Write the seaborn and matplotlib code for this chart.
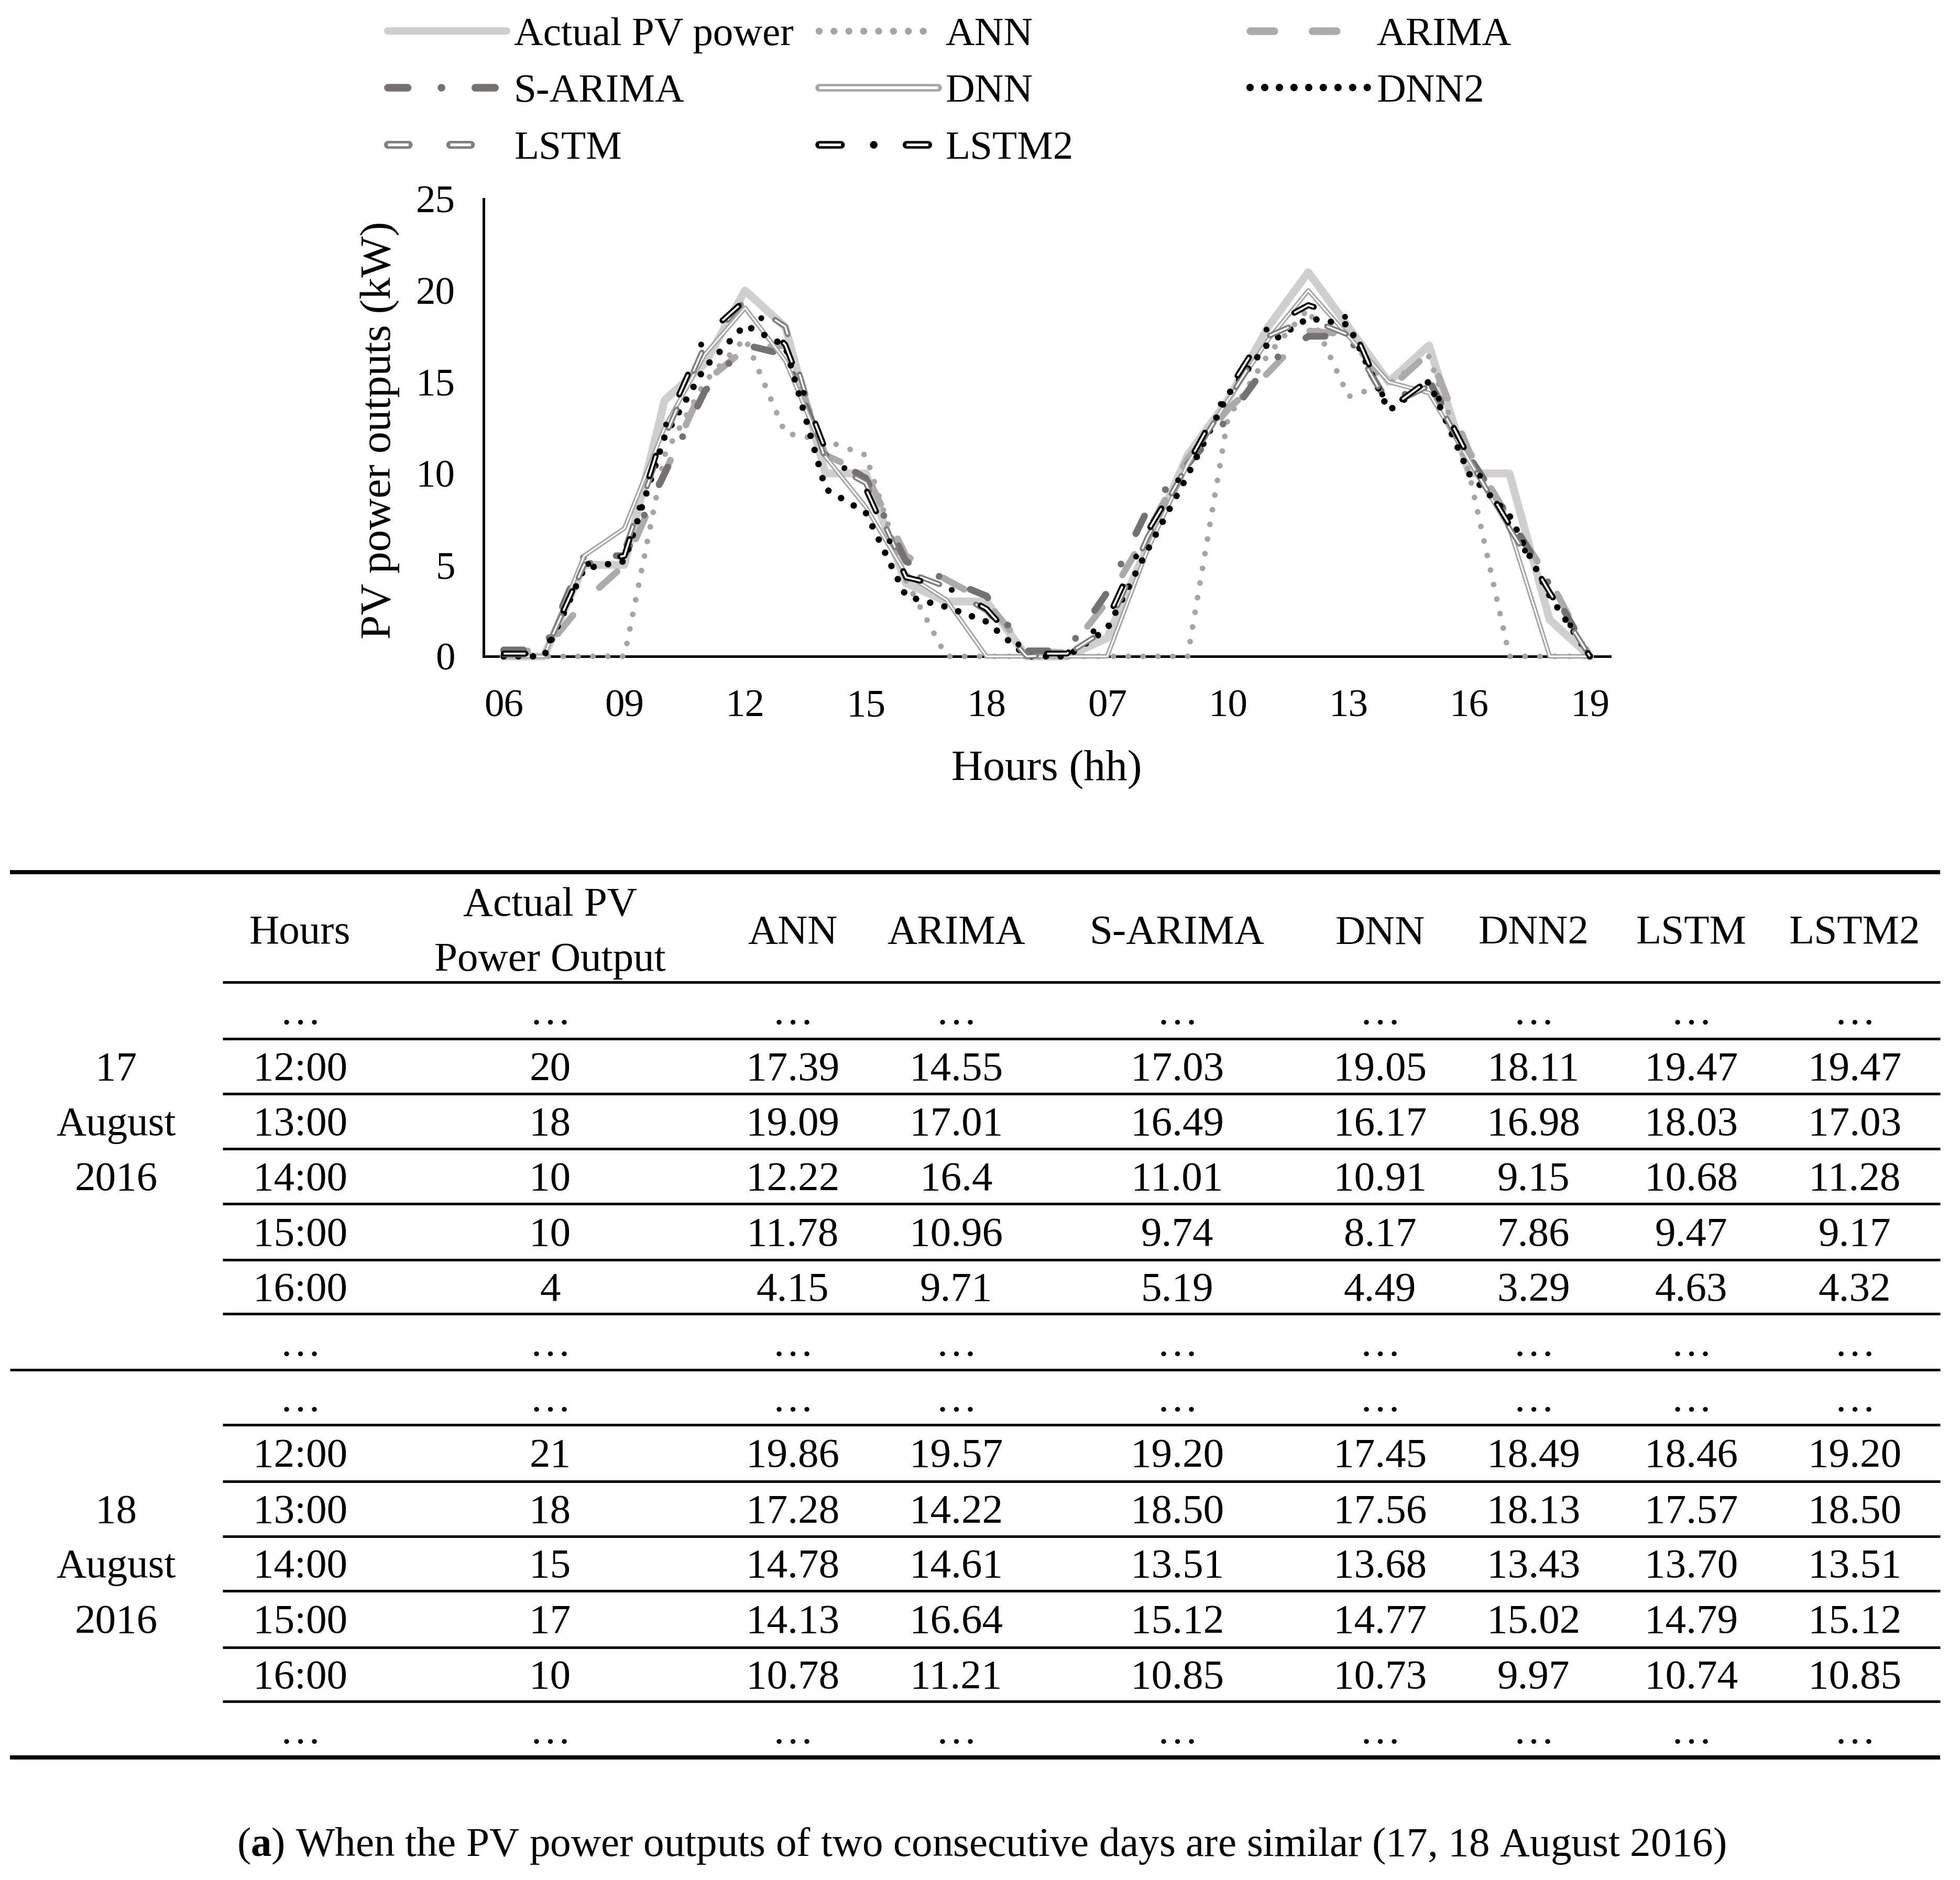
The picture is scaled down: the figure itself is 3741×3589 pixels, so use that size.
import numpy as np
import pandas as pd
import matplotlib
matplotlib.use("Agg")
import matplotlib.pyplot as plt
import seaborn as sns
from matplotlib.lines import Line2D

# two days on one category axis, 06..19 each day
hours = list(range(6, 20)) * 2

actual = [0, 0, 5, 5, 14, 16, 20, 18, 10, 10, 4, 3, 3, 0,
          0, 1, 6, 11, 14, 18, 21, 18, 15, 17, 10, 10, 2, 0]
ann = [0, 0, 0, 0, 11, 15, 17.4, 12.2, 11.8, 11, 4.15, 0, 0, 0,
       0, 0, 0, 0, 13, 16.5, 19, 14.2, 14.9, 16.4, 10, 0, 0, 0]
arima = [0.3, 0.3, 3, 5, 10, 15, 16.8, 17, 11, 10, 5.5, 4.2, 3, 0.3,
         0.2, 3, 6.8, 10.8, 13.5, 15.5, 17.8, 17.6, 14.6, 16.6, 11.2, 7.5, 4.2, 0]
s_arima = [0.35, 0.35, 5.5, 5.5, 10, 14.5, 17.03, 16.49, 11.01, 9.74, 5.19, 4.2, 3.3, 0.3,
           0.3, 3.5, 8, 10.5, 13, 16, 17.5, 17.5, 13.8, 15.1, 10.9, 7.6, 3.9, 0]
dnn = [0, 0, 5.5, 7, 12.5, 16.5, 19.05, 16.17, 10.91, 8.17, 4.49, 3.1, 0, 0,
       0, 0, 5.8, 10.5, 14, 17.3, 20, 17.5, 15, 14.4, 10.7, 7, 0, 0]
dnn2 = [0, 0, 4.8, 5.2, 12, 15.8, 18.11, 16.98, 9.15, 7.86, 3.29, 2.7, 1.9, 0,
        0, 1.5, 5.8, 9.9, 14.3, 17.1, 18.49, 18.13, 13.43, 15.02, 9.97, 7.7, 3.3, 0]
lstm = [0.1, 0.1, 5, 5.8, 12, 17, 19.47, 18.03, 10.68, 9.47, 4.63, 3.8, 2.5, 0,
        0.1, 1.5, 6.5, 10.5, 14, 17.5, 18.46, 17.57, 13.70, 14.79, 10.74, 7, 3.5, 0]
lstm2 = [0.15, 0.15, 5, 5.5, 12.5, 17.5, 19.47, 17.03, 11.28, 9.17, 4.32, 3.8, 2.6, 0.15,
         0.15, 2, 6.8, 10.5, 14.5, 18, 19.2, 18.5, 13.51, 15.12, 10.85, 7.2, 3.5, 0]

# table values as printed
tbl_header = ["Hours", "Actual PV\nPower Output", "ANN", "ARIMA", "S-ARIMA",
              "DNN", "DNN2", "LSTM", "LSTM2"]
tbl_hours = ["12:00", "13:00", "14:00", "15:00", "16:00"]
aug17_actual = ["20", "18", "10", "10", "4"]
aug17_ann = ["17.39", "19.09", "12.22", "11.78", "4.15"]
aug17_arima = ["14.55", "17.01", "16.4", "10.96", "9.71"]
aug17_sarima = ["17.03", "16.49", "11.01", "9.74", "5.19"]
aug17_dnn = ["19.05", "16.17", "10.91", "8.17", "4.49"]
aug17_dnn2 = ["18.11", "16.98", "9.15", "7.86", "3.29"]
aug17_lstm = ["19.47", "18.03", "10.68", "9.47", "4.63"]
aug17_lstm2 = ["19.47", "17.03", "11.28", "9.17", "4.32"]
aug18_actual = ["21", "18", "15", "17", "10"]
aug18_ann = ["19.86", "17.28", "14.78", "14.13", "10.78"]
aug18_arima = ["19.57", "14.22", "14.61", "16.64", "11.21"]
aug18_sarima = ["19.20", "18.50", "13.51", "15.12", "10.85"]
aug18_dnn = ["17.45", "17.56", "13.68", "14.77", "10.73"]
aug18_dnn2 = ["18.49", "18.13", "13.43", "15.02", "9.97"]
aug18_lstm = ["18.46", "17.57", "13.70", "14.79", "10.74"]
aug18_lstm2 = ["19.20", "18.50", "13.51", "15.12", "10.85"]

sns.set_theme(style="white")
plt.rcParams["font.family"] = ["Liberation Serif", "DejaVu Sans"]
plt.rcParams["lines.scale_dashes"] = False
plt.rcParams["mathtext.fontset"] = "custom"
plt.rcParams["mathtext.rm"] = "Liberation Serif"
plt.rcParams["mathtext.bf"] = "Liberation Serif:bold"
plt.rcParams["text.color"] = "black"

W, H, DPI = 3741, 3589, 300
fig = plt.figure(figsize=(W / DPI, H / DPI), dpi=DPI)
fig.patch.set_facecolor("white")

# background axes in pixel units for the table
tab = fig.add_axes([0, 0, 1, 1], zorder=0)
tab.set_xlim(0, W)
tab.set_ylim(H, 0)
tab.axis("off")

ax = fig.add_axes([923 / W, 1 - 1253 / H, 2150 / W, 873 / H], zorder=1)
ax.set_facecolor("none")

df = pd.DataFrame({"x": np.arange(len(actual)), "Actual PV power": actual, "ANN": ann,
                   "ARIMA": arima, "S-ARIMA": s_arima, "DNN": dnn, "DNN2": dnn2,
                   "LSTM": lstm, "LSTM2": lstm2})

handles = {}


def style(ln, dashes, cap, z):
    if dashes is not None:
        ln.set_linestyle((0, dashes))
    ln.set_dash_capstyle(cap)
    ln.set_solid_capstyle(cap)
    ln.set_solid_joinstyle("round")
    ln.set_dash_joinstyle("round")
    ln.set_clip_on(False)
    ln.set_zorder(z)


def draw(name, color, lw, leg_lw, dashes=None, z=3, inner=None, leg_inner=None):
    sns.lineplot(data=df, x="x", y=name, ax=ax, color=color, linewidth=lw,
                 estimator=None, legend=False)
    style(ax.lines[-1], dashes, "round", z)
    h = Line2D([], [], color=color, lw=leg_lw)
    style(h, dashes, "round", z)
    if inner is None:
        handles[name] = h
        return
    sns.lineplot(data=df, x="x", y=name, ax=ax, color="white", linewidth=inner,
                 estimator=None, legend=False)
    style(ax.lines[-1], dashes, "butt", z + 0.1)
    h2 = Line2D([], [], color="white", lw=leg_inner)
    style(h2, dashes, "butt", z + 0.1)
    handles[name] = (h, h2)


draw("Actual PV power", "#d0cece", 3.6, 3.4, z=3)
draw("ANN", "#a5a5a5", 2.6, 3.2, dashes=(0.01, 6.8), z=4)
draw("ARIMA", "#aeaaaa", 3.0, 3.5, dashes=(11, 17.5), z=5)
draw("S-ARIMA", "#767171", 3.1, 3.5, dashes=(9, 15.5, 0.01, 15.5), z=6)
draw("DNN", "#a5a5a5", 2.1, 3.5, z=7, inner=0.7, leg_inner=1.3)
draw("DNN2", "black", 3.0, 3.4, dashes=(0.01, 6.7), z=8)
draw("LSTM", "#7f7f7f", 2.5, 3.6, dashes=(9.5, 19), z=9, inner=0.8, leg_inner=1.3)
draw("LSTM2", "black", 2.7, 3.5, dashes=(10, 15, 0.01, 15), z=10, inner=0.9, leg_inner=1.2)

ax.set_xlim(-0.5, 27.5)
ax.set_ylim(0, 25)
ax.set_yticks(range(0, 26, 5))
ticks = list(range(0, len(hours), 3))
ax.set_xticks(ticks)
ax.set_xticklabels([f"{hours[i]:02d}" for i in ticks])
ax.tick_params(axis="both", length=0, labelsize=18, colors="black")
ax.tick_params(axis="x", pad=15)
ax.tick_params(axis="y", pad=13)
for s in ["top", "right"]:
    ax.spines[s].set_visible(False)
for s in ["left", "bottom"]:
    ax.spines[s].set_color("black")
    ax.spines[s].set_linewidth(1.2)
ax.grid(False)
ax.set_xlabel("Hours (hh)", fontsize=20, color="black")
ax.set_ylabel("PV power outputs (kW)", fontsize=20, color="black")
ax.xaxis.set_label_coords(0.5, -0.248)
ax.xaxis.label.set_va("center")
ax.yaxis.set_label_coords(-0.092, 0.494)
ax.yaxis.label.set_va("center")

# legend: three columns laid out like the original
leg_cols = [["Actual PV power", "S-ARIMA", "LSTM"],
            ["ANN", "DNN", "LSTM2"],
            ["ARIMA", "DNN2"]]
leg_x = [740, 1563, 2386]
for names, lx in zip(leg_cols, leg_x):
    fig.legend([handles[n] for n in names], names, loc="upper left",
               bbox_to_anchor=(lx / W, 1 - 32 / H), frameon=False, borderpad=0,
               borderaxespad=0, handlelength=2.95, handletextpad=0.18,
               labelspacing=0.5, fontsize=18.5)

# table
FS = 19
cap = 0.33 * FS * DPI / 72
col_x = [573, 1050, 1513, 1825, 2247, 2634, 2927, 3228, 3540]
date_x = 222
thick, thin = 1.9, 1.2


def put(x, yc, s):
    tab.text(x, yc + cap, s, ha="center", va="baseline", fontsize=FS, color="black")


tab.hlines(1665, 19, 3703, color="black", lw=thick)
tab.hlines(1875, 425, 3703, color="black", lw=thin)
for x, lab in zip(col_x, tbl_header):
    parts = lab.split("\n")
    if len(parts) == 1:
        put(x, 1775, lab)
    else:
        put(x, 1722, parts[0])
        put(x, 1827, parts[1])


def block(edges, cols, date_label, date_rows):
    mids = [(a + b) / 2 for a, b in zip(edges[:-1], edges[1:])]
    for y in edges[1:-1]:
        tab.hlines(y, 425, 3703, color="black", lw=thin)
    for x in col_x:
        put(x, mids[0], "\u2026")
        put(x, mids[-1], "\u2026")
    for r in range(5):
        for x, col in zip(col_x, cols):
            put(x, mids[r + 1], col[r])
    for k, word in enumerate(date_label):
        put(date_x, mids[date_rows[k]], word)


block([1875, 1983, 2088, 2193, 2298, 2405, 2508, 2615],
      [tbl_hours, aug17_actual, aug17_ann, aug17_arima, aug17_sarima,
       aug17_dnn, aug17_dnn2, aug17_lstm, aug17_lstm2],
      ["17", "August", "2016"], [1, 2, 3])
tab.hlines(2615, 19, 3703, color="black", lw=thin)
block([2615, 2720, 2828, 2933, 3037, 3145, 3248, 3355],
      [tbl_hours, aug18_actual, aug18_ann, aug18_arima, aug18_sarima,
       aug18_dnn, aug18_dnn2, aug18_lstm, aug18_lstm2],
      ["18", "August", "2016"], [2, 3, 4])
tab.hlines(3355, 19, 3703, color="black", lw=thick)

tab.text(1873, 3517 + cap,
         r"($\mathbf{a}$) When the PV power outputs of two consecutive days are similar (17, 18 August 2016)",
         ha="center", va="baseline", fontsize=FS, color="black")

fig.savefig("out.png", dpi=DPI, facecolor="white")
